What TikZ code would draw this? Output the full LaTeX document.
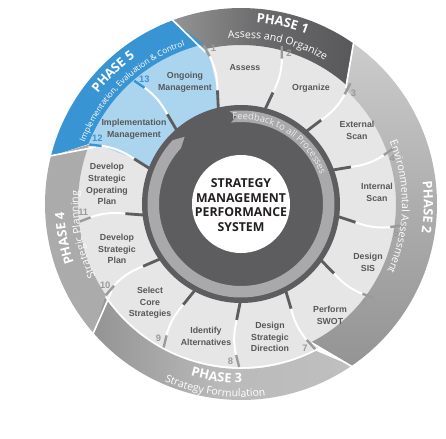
\documentclass[tikz,border=0pt]{standalone}
\usepackage{fontspec}
\setmainfont{Liberation Sans}
\newfontfamily\opensans{Open Sans}
\usepackage{tikz}
\usetikzlibrary{decorations.text}
\tikzset{>=stealth}

\definecolor{seggray}{HTML}{E6E6E6}
\definecolor{segblue}{HTML}{ABD5EF}
\definecolor{phblue}{HTML}{3894D2}
\definecolor{darkring}{HTML}{5D5D5F}
\definecolor{fbgray}{HTML}{A9A9AB}
\definecolor{labgray}{HTML}{58585A}
\definecolor{numgray}{HTML}{9A9A9A}
\definecolor{coretext}{HTML}{231F20}

\newcommand\phasehead{\opensans\bfseries\fontsize{11}{12}\selectfont\color{white}}
\newcommand\phasesub{\opensans\fontsize{9}{10}\selectfont\color{white}}
\newcommand\phasesmall{\opensans\fontsize{7}{8}\selectfont\color{white}}
\newcommand\fbfont{\opensans\fontsize{8}{9}\selectfont\color{white!92!black}}

\tikzset{
  seglabel/.style={align=center, font=\bfseries\fontsize{7.5}{10}\selectfont, text=labgray, inner sep=0pt},
  stepnum/.style={font=\bfseries\fontsize{8}{9}\selectfont, text=numgray, inner sep=0pt},
  corelabel/.style={align=center, font=\opensans\bfseries\fontsize{10.5}{12.5}\selectfont, text=coretext, inner sep=0pt},
  phasetext/.style={decorate, decoration={text along path, text align=center, text={#1}}},
  phaseone/.style={left color=black!42, right color=darkring!95!black, middle color=darkring!92},
  phasetwo/.style={top color=black!20, bottom color=black!42, middle color=black!32},
  phasethree/.style={left color=black!42, right color=black!25, middle color=black!27},
  phasefour/.style={fill=black!33},
  phasefive/.style={fill=phblue}
}

\begin{document}
\begin{tikzpicture}[x=0.03cm, y=0.03cm]
\useasboundingbox (-241,-234) rectangle (205,204);

% process ring
\fill[seggray] (0,0) circle (163);
\fill[segblue] (-201.1:99) -- (-202.9:116) -- (-202.6:152) -- (-201.4:164) arc[start angle=-201.4, end angle=-256.8, radius=164] -- (-258:152) -- (-258.3:116) -- (-256.5:99) -- cycle;

% phase bands
\foreach \ks/\ke/\rin/\col in {1/3/159/phaseone, 3/7/155/phasetwo, 7/10/165/phasethree, 10/12/163/phasefour, 12/14/164/phasefive}{
  \pgfmathsetmacro\s{100-(\ks-1)*360/13}
  \pgfmathsetmacro\e{100-(\ke-1)*360/13}
  \path[\col] (\s+10.5:196) arc[start angle=\s+10.5, end angle=\e+10.5, radius=196] -- (\e+3.2:\rin) arc[start angle=\e+3.2, end angle=\s+3.2, radius=\rin] -- cycle;
}
\foreach \k in {1,3,7,10,12}{
  \pgfmathsetmacro\a{100-(\k-1)*360/13}
  \draw[white, line width=1.4pt] (\a+3.2:156) -- (\a+10.5:197);
}

% centre and feedback arrow
\fill[darkring] (0,0) circle (99);
\fill[fbgray] (97:93.5) arc[start angle=97, end angle=-223, radius=93.5] -- (-230:87.7) -- (-223:82) arc[start angle=-223, end angle=97, radius=82] -- (93:87.7) -- cycle;
\path[phasetext={|\fbfont|Feedback to all Processes}] (112:84.5) arc[start angle=112, end angle=4, radius=84.5];
\fill[white] (0,0) circle (49);
\node[corelabel] (core) at (0,-1) {STRATEGY\\MANAGEMENT\\PERFORMANCE\\SYSTEM};

% separators and step numbers
\foreach \k in {1,...,13}{
  \pgfmathsetmacro\a{100-(\k-1)*360/13}
  \draw[white, line width=1.7pt] (\a+1.7:116) to[bend right=12] (\a+2:152);
  \draw[darkring, line width=2.4pt] (\a+3.5:97) -- (\a+1.7:116);
  \ifnum\k>11
    \draw[phblue, line width=2pt] (\a+2:151) -- (\a+3.2:163);
    \node[stepnum, text=phblue] (n\k) at (\a:158) {\k};
  \else
    \draw[numgray, line width=2pt] (\a+2:151) -- (\a+3.2:163);
    \node[stepnum] (n\k) at (\a:158) {\k};
  \fi
}

% process steps
\node[seglabel] (assess) at (4,136) {Assess};
\node[seglabel] (organize) at (70,116) {Organize};
\node[seglabel] (extscan) at (116,74) {External\\Scan};
\node[seglabel] (intscan) at (136,12) {Internal\\Scan};
\node[seglabel] (sis) at (127,-58) {Design\\SIS};
\node[seglabel] (swot) at (89,-111) {Perform\\SWOT};
\node[seglabel] (direction) at (29,-133) {Design\\Strategic\\Direction};
\node[seglabel] (alternatives) at (-35,-132) {Identify\\Alternatives};
\node[seglabel] (core strat) at (-91,-99) {Select\\Core\\Strategies};
\node[seglabel] (stratplan) at (-124,-45) {Develop\\Strategic\\Plan};
\node[seglabel] (opplan) at (-134,20) {Develop\\Strategic\\Operating\\Plan};
\node[seglabel] (implement) at (-107,75) {Implementation\\Management};
\node[seglabel] (ongoing) at (-56,122) {Ongoing\\Management};

% phase titles
\path[phasetext={|\phasehead|PHASE 1}] (127:182) arc[start angle=127, end angle=27, radius=182];
\path[phasetext={|\phasesub|Assess and Organize}] (127:166) arc[start angle=127, end angle=27, radius=166];
\path[phasetext={|\phasehead|PHASE 2}] (49:183) arc[start angle=49, end angle=-51, radius=183];
\path[phasetext={|\phasesub|Environmental Assessment}] (59:161) arc[start angle=59, end angle=-61, radius=161];
\path[phasetext={|\phasehead|PHASE 3}] (-148:179) arc[start angle=-148, end angle=-48, radius=179];
\path[phasetext={|\phasesub|Strategy Formulation}] (-148:193) arc[start angle=-148, end angle=-48, radius=193];
\path[phasetext={|\phasehead|PHASE 4}] (-119:177) arc[start angle=-119, end angle=-219, radius=177];
\path[phasetext={|\phasesub|Strategic Planning}] (-119:162.5) arc[start angle=-119, end angle=-219, radius=162.5];
\path[phasetext={|\phasehead|PHASE 5}] (184:181) arc[start angle=184, end angle=84, radius=181];
\path[phasetext={|\phasesmall|Implementation, Evaluation {\&} Control}] (184:168) arc[start angle=184, end angle=84, radius=168];
\end{tikzpicture}
\end{document}
